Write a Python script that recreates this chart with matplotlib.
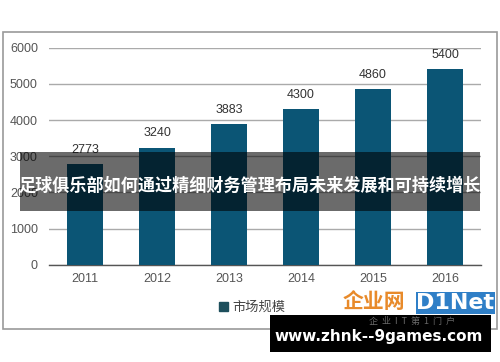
import matplotlib
matplotlib.use("Agg")
import matplotlib.pyplot as plt
from matplotlib.patches import Rectangle

years = ["2011", "2012", "2013", "2014", "2015", "2016"]
market_size = [2773, 3240, 3883, 4300, 4860, 5400]
yticks = [0, 1000, 2000, 3000, 4000, 5000, 6000]
legend_label = "市场规模"
banner_title = "足球俱乐部如何通过精细财务管理布局未来发展和可持续增长"
footer_url = "www.zhnk--9games.com"

plt.rcParams['font.family'] = ['Liberation Sans', 'Noto Sans CJK SC', 'DejaVu Sans']

W, H = 500, 362
fig = plt.figure(figsize=(W / 100, H / 100), dpi=100)
fig.patch.set_facecolor('white')

def fx(px):
    return px / W

def fy(py):
    return 1 - py / H

# outer frame
fig.patches.append(Rectangle((fx(3), fy(329)), fx(497) - fx(3), fy(32) - fy(329),
                             transform=fig.transFigure, fill=False,
                             edgecolor='#9a9a9a', linewidth=1.2, zorder=0))

ax = fig.add_axes([fx(49), fy(264.7), fx(481) - fx(49), fy(47.7) - fy(264.7)])
bar_color = '#0b5575'
x = list(range(len(years)))
bars = ax.bar(x, market_size, width=0.5, color=bar_color, zorder=3, label=legend_label)
ax.set_xlim(-0.5, 5.5)
ax.set_ylim(0, 6000)
ax.set_yticks(yticks)
ax.set_yticklabels([str(v) for v in yticks], color='#555555', fontsize=9)
ax.set_xticks(x)
ax.set_xticklabels(years, color='#555555', fontsize=9)
ax.tick_params(axis='both', length=0, pad=8)
ax.tick_params(axis='x', pad=6)
for s in ['top', 'right', 'left']:
    ax.spines[s].set_visible(False)
ax.spines['bottom'].set_color('#555555')
ax.spines['bottom'].set_linewidth(1.0)
ax.grid(axis='y', color='#aaaaaa', linewidth=1.0, zorder=0)
ax.set_axisbelow(True)

for xi, v in zip(x, market_size):
    ax.annotate(str(v), (xi, v), xytext=(0, 6), textcoords='offset points',
                ha='center', va='bottom', fontsize=9, color='#333333')

leg = fig.legend(handles=[bars], labels=[legend_label], loc='center',
                 bbox_to_anchor=(fx(252), fy(308)), frameon=False, fontsize=9.5,
                 handlelength=0.7, handleheight=0.7, handletextpad=0.3)
for t in leg.get_texts():
    t.set_color('#444444')
leg.legend_handles[0].set_color('#1d4f5c')

# watermark logo
fig.text(fx(374), fy(302), "企业网", ha='center', va='center', fontsize=15,
         fontweight='bold', color='#e88a2a', family=['Noto Sans CJK SC'])
fig.patches.append(Rectangle((fx(416), fy(314)), fx(495) - fx(416), fy(292) - fy(314),
                             transform=fig.transFigure, facecolor='#2f7fc7',
                             edgecolor='none', zorder=1))
fig.text(fx(455), fy(303), "D1Net", ha='center', va='center', fontsize=16,
         fontweight='bold', color='white', family=['DejaVu Sans'])

# dark translucent banner
fig.patches.append(Rectangle((fx(20), fy(211)), fx(480) - fx(20), fy(152) - fy(211),
                             transform=fig.transFigure, facecolor='black',
                             alpha=0.58, edgecolor='none', zorder=5))
fig.text(fx(250), fy(186), banner_title, ha='center', va='center', fontsize=12.3,
         fontweight='bold', color='white', family=['Noto Sans CJK SC'], zorder=6)

# bottom black box with url
fig.patches.append(Rectangle((fx(270), fy(352)), fx(491) - fx(270), fy(315) - fy(352),
                             transform=fig.transFigure, facecolor='black',
                             edgecolor='none', zorder=5))
fig.text(fx(412), fy(321), "企  业  I  T  第  1  门  户", ha='center', va='center', fontsize=6.5,
         color='#6a6a6a', family=['Noto Sans CJK SC'], zorder=6)
fig.text(fx(379), fy(336), footer_url, ha='center', va='center', fontsize=11,
         fontweight='bold', color='white', family=['DejaVu Sans'], zorder=7)

fig.savefig("out.png", dpi=100)
